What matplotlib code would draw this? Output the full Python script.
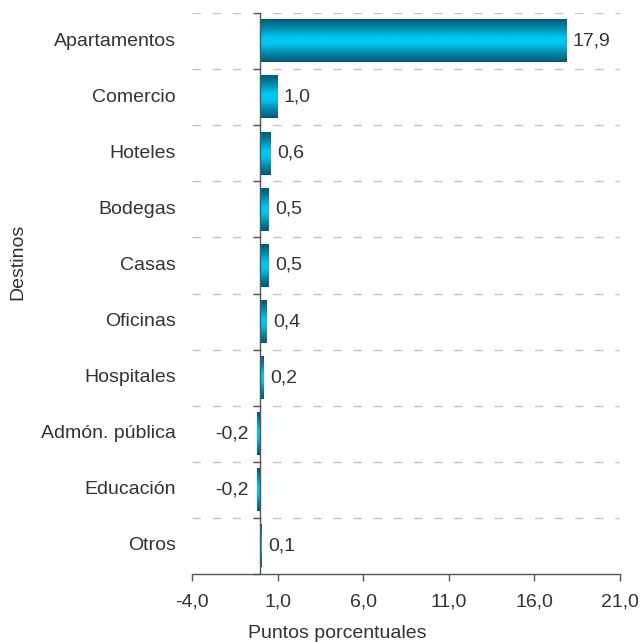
import numpy as np
import matplotlib
matplotlib.use("Agg")
import matplotlib.pyplot as plt
from matplotlib.colors import LinearSegmentedColormap
from matplotlib.transforms import blended_transform_factory

categories = ["Apartamentos", "Comercio", "Hoteles", "Bodegas", "Casas",
              "Oficinas", "Hospitales", "Admón. pública", "Educación", "Otros"]
values = [17.9, 1.0, 0.6, 0.5, 0.5, 0.4, 0.2, -0.2, -0.2, 0.1]
xticks = [-4.0, 1.0, 6.0, 11.0, 16.0, 21.0]

plt.rcParams['font.family'] = ['Liberation Sans', 'DejaVu Sans']
plt.rcParams['lines.scale_dashes'] = False
txt_color = "#333333"
fs = 14

fig = plt.figure(figsize=(6.44, 6.42), dpi=100)
L, R, T, B = 192, 620, 13, 574
W, H = 644, 642
ax = fig.add_axes([L / W, 1 - B / H, (R - L) / W, (B - T) / H])

n = len(categories)
ax.set_xlim(-4, 21)
ax.set_ylim(n - 0.5, -0.5)

cmap = LinearSegmentedColormap.from_list(
    "cyl", [(0.0, "#005a76"), (0.2, "#0089ab"), (0.42, "#00c6f0"),
            (0.58, "#00c6f0"), (0.8, "#0089ab"), (1.0, "#005a76")])
grad = np.linspace(0, 1, 64).reshape(-1, 1)
bh = 0.76
for i, v in enumerate(values):
    x0, x1 = min(0, v), max(0, v)
    ax.imshow(grad, cmap=cmap, aspect='auto', interpolation='bilinear',
              extent=(x0, x1, i + bh / 2, i - bh / 2), zorder=3)
    lab = f"{v:.1f}".replace(".", ",")
    if v >= 0:
        ax.annotate(lab, (v, i), xytext=(6, 0), textcoords='offset pixels',
                    ha='left', va='center', fontsize=fs, color=txt_color)
    else:
        ax.annotate(lab, (v, i), xytext=(-8, 0), textcoords='offset pixels',
                    ha='right', va='center', fontsize=fs, color=txt_color)

ax.set_xlim(-4, 21)
ax.set_ylim(n - 0.5, -0.5)

for b in np.arange(-0.5, n - 0.5, 1.0):
    ax.axhline(b, color="#c4c4c4", lw=1.0, dashes=(6, 8.5), zorder=1)

for s in ["top", "right", "left"]:
    ax.spines[s].set_visible(False)
ax.spines["bottom"].set_color("#555555")
ax.spines["bottom"].set_linewidth(1.0)
ax.axvline(0, color="#555555", lw=1.0, zorder=4)
for b in np.arange(-0.5, n, 1.0):
    ax.plot([-0.35, 0], [b, b], color="#555555", lw=1.0, zorder=4, clip_on=False)

ax.set_xticks(xticks)
ax.set_xticklabels([f"{t:.1f}".replace(".", ",") for t in xticks],
                   fontsize=fs, color=txt_color)
ax.tick_params(axis='x', length=5, width=1.0, color="#555555", pad=9)
ax.set_yticks([])

trans = blended_transform_factory(fig.transFigure, ax.transData)
for i, c in enumerate(categories):
    ax.text(176 / W, i, c, transform=trans, ha='right', va='center',
            fontsize=fs, color=txt_color)

fig.text(337 / W, 1 - 633 / H, "Puntos porcentuales", ha='center', va='center',
         fontsize=fs, color=txt_color)
fig.text(18 / W, 1 - 262 / H, "Destinos", ha='center', va='center',
         rotation=90, fontsize=fs, color=txt_color)

fig.savefig("out.png", dpi=100)
